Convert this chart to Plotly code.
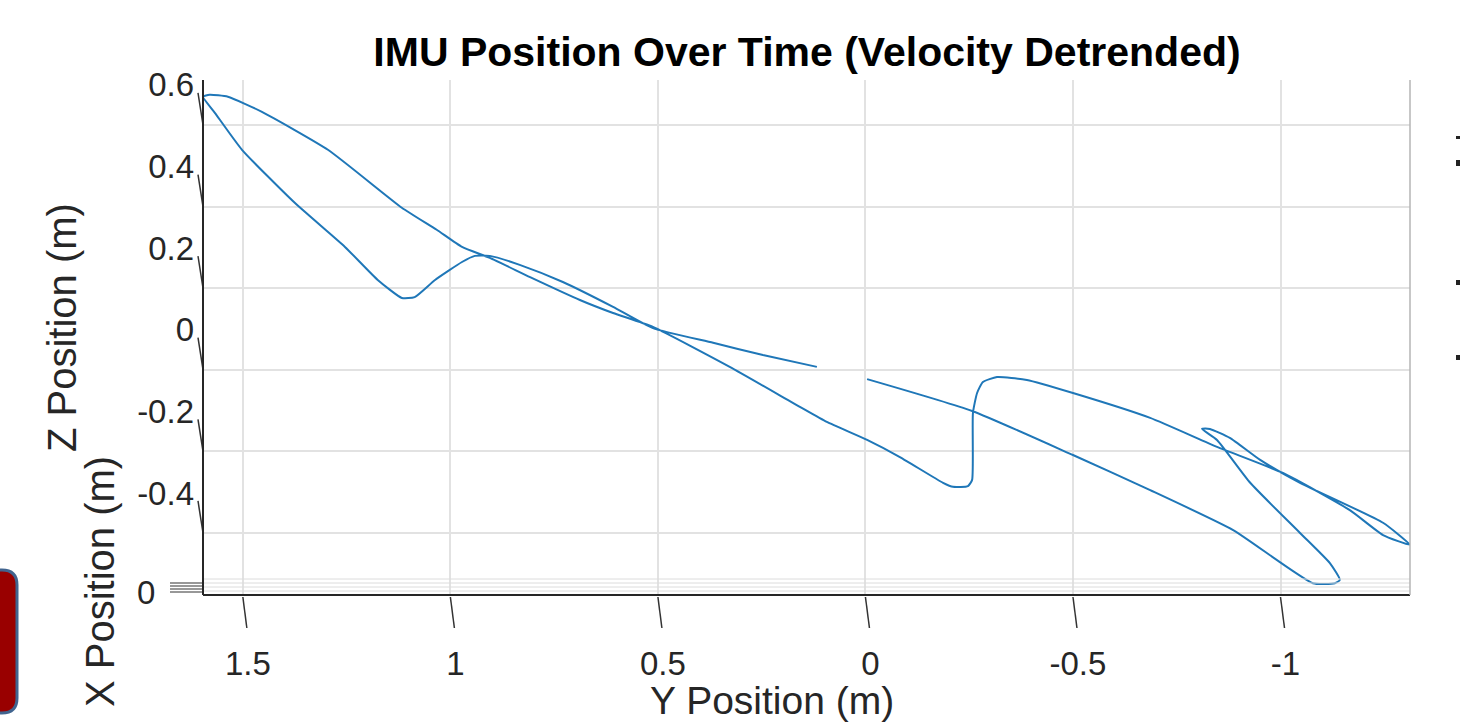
import plotly.graph_objects as go

# ---------------- data ----------------
y_pos = [0.117, 0.247, 0.367, 0.512, 0.608, 0.729, 0.833, 0.905, 0.941, 0.972,
         1.037, 1.086, 1.117, 1.175, 1.254, 1.375, 1.502, 1.567, 1.596, 1.580,
         1.536, 1.454, 1.295, 1.117, 1.033, 0.972, 0.905, 0.808, 0.688, 0.608,
         0.512, 0.327, 0.158, 0.093, -0.004, -0.083, -0.187, -0.211, -0.247, -0.257,
         -0.259, -0.269, -0.283, -0.317, -0.389, -0.500, -0.686, -0.847, -1.006, -1.167,
         -1.247, -1.312, -1.247, -1.047, -0.951, -0.878, -0.830, -0.811, -0.847, -0.927,
         -1.047, -1.119, -1.143, -1.131, -1.078, -0.886, -0.686, -0.500, -0.257, -0.004]
z_pos = [0.007, 0.036, 0.066, 0.102, 0.154, 0.215, 0.257, 0.279, 0.279, 0.264,
         0.220, 0.178, 0.176, 0.220, 0.301, 0.409, 0.539, 0.629, 0.669, 0.674,
         0.669, 0.632, 0.539, 0.397, 0.343, 0.301, 0.274, 0.227, 0.171, 0.139,
         0.105, 0.007, -0.091, -0.128, -0.172, -0.214, -0.277, -0.287, -0.285, -0.270,
         -0.106, -0.057, -0.030, -0.018, -0.025, -0.057, -0.118, -0.189, -0.253, -0.344,
         -0.405, -0.429, -0.375, -0.277, -0.221, -0.167, -0.145, -0.145, -0.172, -0.277,
         -0.400, -0.474, -0.515, -0.523, -0.523, -0.393, -0.295, -0.209, -0.101, -0.023]

y_ticks = [1.5, 1, 0.5, 0, -0.5, -1]
y_tick_labels = ["1.5", "1", "0.5", "0", "-0.5", "-1"]
z_ticks = [0.6, 0.4, 0.2, 0, -0.2, -0.4]
z_tick_labels = ["0.6", "0.4", "0.2", "0", "-0.2", "-0.4"]
x_ticks = [0]
x_tick_labels = ["0"]

title_text = "IMU Position Over Time (Velocity Detrended)"
x_title = "X Position (m)"
y_title = "Y Position (m)"
z_title = "Z Position (m)"

# ---------------- layout geometry ----------------
W, H = 1460, 722
L, R, T, B = 203, 1410, 80, 595
Y_RANGE = [1.596, -1.312]
Z_RANGE = [-0.552, 0.710]


def px_x(px):
    return (px - L) / (R - L)


def px_y(py):
    return (B - py) / (B - T)


FONT = "Liberation Sans, Arial, sans-serif"
TXT = "#262626"

fig = go.Figure()
fig.add_trace(go.Scatter(x=y_pos, y=z_pos, mode="lines",
                         line=dict(color="#1f77b8", width=2, shape="spline", smoothing=0.5),
                         showlegend=False, hoverinfo="skip"))

shapes = []
# slanted Z tick marks on the left edge
z_per_px = (Z_RANGE[1] - Z_RANGE[0]) / (B - T)
for z in z_ticks:
    shapes.append(dict(type="line", xref="paper", yref="y",
                       x0=0, y0=z, x1=px_x(198), y1=z + 32 * z_per_px,
                       line=dict(color="#333333", width=1.5)))
# slanted Y tick marks under the bottom axis
y_per_px = (Y_RANGE[0] - Y_RANGE[1]) / (R - L)
for yv in y_ticks:
    shapes.append(dict(type="line", xref="x", yref="paper",
                       x0=yv, y0=px_y(597), x1=yv - 4 * y_per_px, y1=px_y(628),
                       line=dict(color="#333333", width=1.5)))
# edge-on X grid lines near the bottom
for py in [579, 583, 587, 591]:
    shapes.append(dict(type="line", xref="paper", yref="paper",
                       x0=0, x1=1, y0=px_y(py), y1=px_y(py),
                       line=dict(color="#dcdcdc", width=1)))
# edge-on X tick marks at left
for py in [583, 586, 589, 592]:
    shapes.append(dict(type="line", xref="paper", yref="paper",
                       x0=px_x(170), x1=0, y0=px_y(py), y1=px_y(py),
                       line=dict(color="#333333", width=1.2)))
# box edges
shapes.append(dict(type="line", xref="paper", yref="paper", x0=0, x1=0, y0=0, y1=1,
                   line=dict(color="#262626", width=2)))
shapes.append(dict(type="line", xref="paper", yref="paper", x0=0, x1=1, y0=0, y1=0,
                   line=dict(color="#262626", width=2)))
shapes.append(dict(type="line", xref="paper", yref="paper", x0=1, x1=1, y0=0, y1=1,
                   line=dict(color="#b5b5b5", width=1.5)))

# red rounded box at bottom-left (slide decoration)
x0p, x1p, y0p, y1p = px_x(-20), px_x(17), px_y(713), px_y(570)
rx, ry = 15 / (R - L), 15 / (B - T)
path = (f"M {x0p},{y1p} L {x1p - rx},{y1p} Q {x1p},{y1p} {x1p},{y1p - ry} "
        f"L {x1p},{y0p + ry} Q {x1p},{y0p} {x1p - rx},{y0p} L {x0p},{y0p} Z")
shapes.append(dict(type="path", xref="paper", yref="paper", path=path,
                   fillcolor="#990000", line=dict(color="#41648f", width=3)))
# tiny cut-off marks on the right edge
for (pa, pb) in [(136, 139), (160, 166), (280, 285), (355, 360)]:
    shapes.append(dict(type="rect", xref="paper", yref="paper",
                       x0=px_x(1456), x1=px_x(1460), y0=px_y(pb), y1=px_y(pa),
                       fillcolor="#222222", line=dict(width=0)))

annotations = [
    dict(text=z_title, xref="paper", yref="paper", x=px_x(62), y=px_y(328),
         textangle=-90, showarrow=False, font=dict(family=FONT, size=40, color=TXT),
         xanchor="center", yanchor="middle"),
    dict(text=x_title, xref="paper", yref="paper", x=px_x(100), y=px_y(582),
         textangle=-90, showarrow=False, font=dict(family=FONT, size=40, color=TXT),
         xanchor="center", yanchor="middle"),
    dict(text=y_title, xref="paper", yref="paper", x=px_x(772), y=px_y(700),
         showarrow=False, font=dict(family=FONT, size=39, color=TXT),
         xanchor="center", yanchor="middle"),
]
for xv, lab in zip(x_ticks, x_tick_labels):
    annotations.append(dict(text=lab, xref="paper", yref="paper", x=px_x(146), y=px_y(592),
                            showarrow=False, font=dict(family=FONT, size=33, color=TXT),
                            xanchor="center", yanchor="middle"))

fig.update_layout(
    width=W, height=H,
    margin=dict(l=L, r=W - R, t=T, b=H - B, autoexpand=False),
    paper_bgcolor="white", plot_bgcolor="white",
    title=dict(text=f"<b>{title_text}</b>", x=px_x(807), xref="paper", xanchor="center",
               y=1 - 52 / H, yref="container", yanchor="middle",
               font=dict(family="Liberation Sans Narrow, Liberation Sans, Arial", size=41, color="#000000")),
    xaxis=dict(range=Y_RANGE, tickvals=y_ticks, ticktext=y_tick_labels,
               showgrid=True, gridcolor="#e2e2e2", gridwidth=1.5, zeroline=False,
               showline=False, ticks="", ticklabelstandoff=46, ticklabelshift=-5,
               automargin=False,
               tickfont=dict(family=FONT, size=33, color=TXT)),
    yaxis=dict(range=Z_RANGE, tickvals=z_ticks, ticktext=z_tick_labels,
               showgrid=True, gridcolor="#e2e2e2", gridwidth=1.5, zeroline=False,
               showline=False, ticks="", ticklabelstandoff=8, ticklabelshift=-40,
               automargin=False,
               tickfont=dict(family=FONT, size=33, color=TXT)),
    shapes=shapes, annotations=annotations,
)

fig.write_html("out.html", config={"displayModeBar": False},
               post_script="document.body.style.margin='0px';document.body.style.overflow='hidden';")
